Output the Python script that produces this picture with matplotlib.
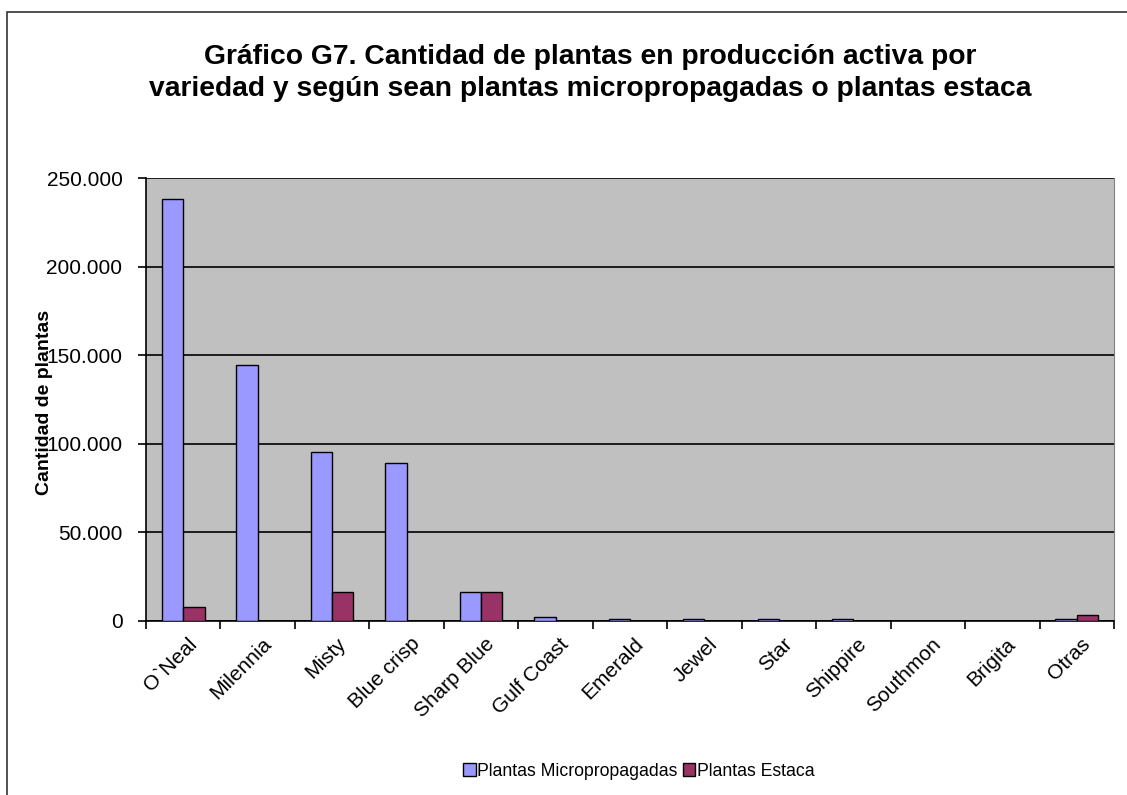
import matplotlib
matplotlib.use("Agg")
import matplotlib.pyplot as plt
from matplotlib.patches import Rectangle
from matplotlib.ticker import FuncFormatter, MultipleLocator
import numpy as np

plt.rcParams["font.family"] = ["Liberation Sans", "DejaVu Sans"]

variedades = ["O`Neal", "Milennia", "Misty", "Blue crisp", "Sharp Blue", "Gulf Coast",
              "Emerald", "Jewel", "Star", "Shippire", "Southmon", "Brigita", "Otras"]
micro = [238000, 144500, 95500, 89000, 16500, 2400, 1200, 1200, 1200, 1200, 0, 0, 1200]
estaca = [7700, 0, 16500, 0, 16500, 0, 0, 0, 0, 0, 0, 0, 3500]

titulo = ("Gráfico G7. Cantidad de plantas en producción activa por\n"
          "variedad y según sean plantas micropropagadas o plantas estaca")

fig = plt.figure(figsize=(11.27, 7.95), dpi=100)
ax = fig.add_axes([146 / 1127, 1 - 621 / 795, (1114 - 146) / 1127, (621 - 178) / 795])

# outer chart border (runs off right/bottom edge like the source)
fig.patches.append(Rectangle((7 / 1127, -0.05), 1.2, 1 - 12 / 795 + 0.05,
                             transform=fig.transFigure, fill=False,
                             edgecolor="#333333", linewidth=1.2))

x = np.arange(len(variedades))
w = 1 / 3.5
ax.bar(x - w / 2, micro, w, color="#9999FF", edgecolor="black", linewidth=1,
       label="Plantas Micropropagadas", zorder=3)
ax.bar(x + w / 2, estaca, w, color="#993366", edgecolor="black", linewidth=1,
       label="Plantas Estaca", zorder=3)

ax.set_facecolor("#C0C0C0")
ax.set_xlim(-0.5, len(variedades) - 0.5)
ax.set_ylim(0, 250000)
ax.yaxis.set_major_locator(MultipleLocator(50000))
ax.yaxis.set_major_formatter(FuncFormatter(lambda v, p: f"{int(v):,}".replace(",", ".")))
ax.grid(axis="y", color="black", linewidth=1.2, zorder=1)
ax.set_axisbelow(True)

ax.set_xticks(x)
ax.set_xticklabels([])
ax.set_xticks(np.arange(len(variedades) + 1) - 0.5, minor=True)
ax.tick_params(axis="x", which="major", length=0)
ax.tick_params(axis="x", which="minor", length=6, width=1.2, direction="out")
ax.tick_params(axis="y", length=6, width=1.2, labelsize=15, pad=11)
for xi, lab in zip(x, variedades):
    ax.text(xi + 0.05, -0.03, lab, transform=ax.get_xaxis_transform(), rotation=45,
            ha="right", va="top", rotation_mode="anchor", fontsize=15)

for s in ["left", "bottom"]:
    ax.spines[s].set_color("black")
    ax.spines[s].set_linewidth(1.2)
ax.spines["top"].set_visible(False)
ax.spines["right"].set_color("#808080")

fig.text(590 / 1127, 1 - 73 / 795, titulo, ha="center", va="center", fontsize=20.3,
         fontweight="bold", linespacing=1.3)
fig.text(45 / 1127, 1 - 402 / 795, "Cantidad de plantas", rotation=90, ha="center",
         va="center", fontsize=14, fontweight="bold")

ax.legend(loc="center", bbox_to_anchor=(639 / 1127, 1 - 771 / 795),
          bbox_transform=fig.transFigure, ncol=2, frameon=False, fontsize=12.7,
          handlelength=0.7, handleheight=0.7, handletextpad=0.1, columnspacing=0.3)

fig.savefig("out.png", dpi=100)
